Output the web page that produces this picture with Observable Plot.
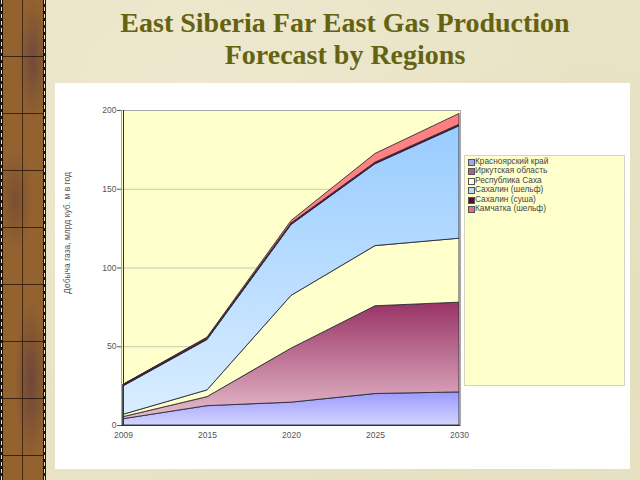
<!DOCTYPE html>
<html>
<head>
<meta charset="utf-8">
<script src="https://cdn.jsdelivr.net/npm/d3@7"></script>
<script src="https://cdn.jsdelivr.net/npm/@observablehq/plot@0.6"></script>
<style>
  html, body { margin: 0; padding: 0; }
  body { width: 640px; height: 480px; overflow: hidden; background: #e9e3c7; }
  #slide { position: relative; width: 640px; height: 480px; overflow: hidden;
    background: radial-gradient(ellipse at 30% 20%, #ede8cf 0%, rgba(0,0,0,0) 60%),
                radial-gradient(ellipse at 80% 70%, #e4ddbd 0%, rgba(0,0,0,0) 60%), #e9e3c6; }
  #bar { position: absolute; left: 0; top: 0; width: 46px; height: 480px; background: #1e140c; }
  #bar .inner { position: absolute; left: 3px; top: 0; width: 40px; height: 480px;
    background:
      repeating-linear-gradient(180deg, rgba(0,0,0,0) 0, rgba(0,0,0,0) 56px, rgba(40,20,10,0.8) 56px, rgba(40,20,10,0.8) 57px),
      linear-gradient(90deg, rgba(0,0,0,0) 0, rgba(0,0,0,0) 19px, rgba(40,20,10,0.7) 19px, rgba(40,20,10,0.7) 20px, rgba(0,0,0,0) 20px),
      radial-gradient(ellipse 14px 60px at 30px 60px, #6f4a3c 0%, rgba(111,74,60,0.0) 100%),
      radial-gradient(ellipse 16px 80px at 28px 380px, #6d473a 0%, rgba(109,71,58,0.0) 100%),
      radial-gradient(ellipse 18px 50px at 12px 200px, #7a5030 0%, rgba(122,80,48,0.0) 100%),
      #93622f; }
  #bar .dash { position: absolute; top: 0; width: 1px; height: 480px;
    background: repeating-linear-gradient(180deg, #e8e0c8 0, #e8e0c8 4px, #1e140c 4px, #1e140c 7px); }
  .title { position: absolute; left: 0; width: 690px; text-align: center;
    font-family: "Liberation Serif", "Times New Roman", serif; font-weight: bold;
    font-size: 28px; line-height: 32px; color: #656312; white-space: nowrap; }
  #panel { position: absolute; left: 55px; top: 83px; width: 575px; height: 386px; background: #ffffff; }
  #chart { position: absolute; left: 55px; top: 83px; }
  #legend { position: absolute; left: 464px; top: 155px; width: 161px; height: 231px;
    background: #ffffcc; border: 1px solid #d4d4c4; box-sizing: border-box;
    font-family: "Liberation Sans", Arial, sans-serif; font-size: 8.3px; color: #444; padding-top: 1px; }
  #legend .item { position: relative; height: 9.4px; line-height: 9.4px; padding-left: 10px; white-space: nowrap; }
  #legend .sw { position: absolute; left: 3px; top: 2px; width: 5px; height: 5px; border: 1px solid #555; }
</style>
</head>
<body>
<div id="slide">
  <div id="bar"><div class="inner"></div><div class="dash" style="left:1px"></div><div class="dash" style="left:44px"></div></div>
  <div class="title" style="top:7px">East Siberia Far East Gas Production</div>
  <div class="title" style="top:39px">Forecast by Regions</div>
  <div id="panel"></div>
  <div id="chart"></div>
  <div id="legend"></div>
</div>
<script>
// ---- data ----
const years = [2009, 2015, 2020, 2025, 2030];
const regions = ["Красноярский край", "Иркутская область", "Республика Саха", "Сахалин (шельф)", "Сахалин (суша)", "Камчатка (шельф)"];
const krasnoyarsk   = [4, 12.3, 14.5, 20, 21];
const irkutsk       = [1.3, 5.7, 34.3, 55.7, 57];
const sakha         = [1.5, 4.3, 33.5, 38.2, 40.6];
const sakhalinShelf = [18, 32, 45, 52, 71.4];
const sakhalinLand  = [1, 1, 1, 1, 1];
const kamchatka     = [0, 0.5, 1.5, 5.5, 6.8];
const yTicks = [0, 50, 100, 150, 200];
const yLabel = "Добыча газа, млрд куб. м в год";

// ---- styles ----
const gradients = [
  {id: "gKras",  top: "#9a9aff", bottom: "#d4d4ff"},
  {id: "gIrk",   top: "#993366", bottom: "#e6bccb"},
  {id: "gSakha", top: "#ffffcc", bottom: "#ffffcc"},
  {id: "gShelf", top: "#99ccff", bottom: "#d9edff"},
  {id: "gLand",  top: "#660033", bottom: "#660033"},
  {id: "gKam",   top: "#ff7f7f", bottom: "#ff8a8a"}
];
const swatches = ["#a4a4f0", "#b35f84", "#ffffee", "#b4ddff", "#5c0a30", "#e57272"];

const series = [krasnoyarsk, irkutsk, sakha, sakhalinShelf, sakhalinLand, kamchatka];
const data = [];
regions.forEach((r, i) => years.forEach((y, j) => data.push({region: r, year: y, value: series[i][j]})));

const W = 575, H = 386;
const chart = Plot.plot({
  width: W, height: H,
  marginLeft: 66, marginTop: 27, marginBottom: 44, marginRight: 170,
  style: {background: "transparent", fontFamily: "'Liberation Sans', Arial, sans-serif", fontSize: "8.5px", color: "#444"},
  x: {type: "point", domain: years, padding: 0, label: null},
  y: {domain: [0, 200], label: null},
  color: {domain: regions, range: gradients.map(g => `url(#${g.id})`)},
  marks: [
    Plot.frame({fill: "#ffffcc", stroke: null}),
    Plot.gridY([50, 100, 150], {stroke: "#c9c9b2", strokeOpacity: 1}),
    Plot.areaY(data, {x: "year", y: "value", z: "region", fill: "region", order: regions,
      stroke: "#2b2b3a", strokeWidth: 0.9, strokeLinejoin: "round"}),
    Plot.frame({stroke: "#a8a8a0", fill: null}),
    Plot.ruleY([0], {stroke: "#333"}),
    Plot.ruleX([2009], {stroke: "#333"}),
    Plot.axisY({ticks: yTicks, tickSize: 4, tickPadding: 1, color: "#555", label: null}),
    Plot.axisX({ticks: years, tickSize: 0, tickPadding: 6, color: "#555", label: null, tickFormat: d => String(d)}),
    Plot.text([yLabel], {frameAnchor: "left", rotate: -90, dx: -54, dy: -35, textAnchor: "middle", fontSize: 8.5, fill: "#555"})
  ]
});

// gradient definitions
const svg = d3.select(chart);
const defs = svg.insert("defs", ":first-child");
gradients.forEach(g => {
  const lg = defs.append("linearGradient").attr("id", g.id).attr("x1", 0).attr("y1", 0).attr("x2", 0).attr("y2", 1);
  lg.append("stop").attr("offset", "0%").attr("stop-color", g.top);
  lg.append("stop").attr("offset", "100%").attr("stop-color", g.bottom);
});
document.getElementById("chart").appendChild(chart);

// legend
const legend = d3.select("#legend");
regions.forEach((r, i) => {
  const it = legend.append("div").attr("class", "item");
  it.append("span").attr("class", "sw").style("background", swatches[i]);
  it.append("span").text(r);
});
</script>
</body>
</html>
